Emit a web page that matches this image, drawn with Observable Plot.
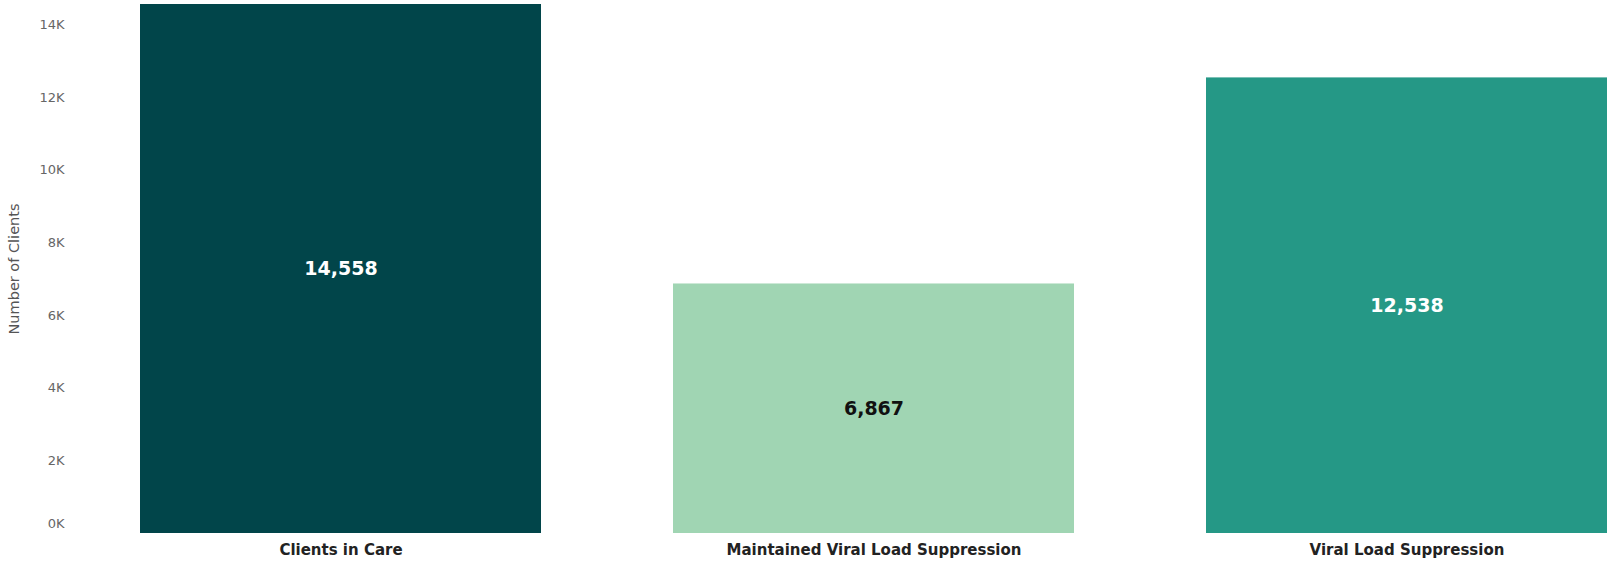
<!DOCTYPE html>
<html>
<head>
<meta charset="utf-8">
<script src="https://cdn.jsdelivr.net/npm/d3@7"></script>
<script src="https://cdn.jsdelivr.net/npm/@observablehq/plot@0.6"></script>
<style>
  html, body { margin: 0; padding: 0; background: #fff; }
  #chart svg { display: block; }
</style>
</head>
<body>
<div id="chart"></div>
<script>
const categories = ["Clients in Care", "Maintained Viral Load Suppression", "Viral Load Suppression"];
const values = [14558, 6867, 12538];
const barColors = ["#01454a", "#a0d5b3", "#259886"];
const labelColors = ["#ffffff", "#111111", "#ffffff"];
const yTicks = [0, 2000, 4000, 6000, 8000, 10000, 12000, 14000];

const data = categories.map((c, i) => ({category: c, value: values[i], color: barColors[i], labelColor: labelColors[i]}));
const fmtK = d => (d / 1000) + "K";

const chart = Plot.plot({
  width: 1611,
  height: 562,
  marginTop: 4,
  marginBottom: 29,
  marginLeft: 140,
  marginRight: 3,
  style: {fontFamily: "'DejaVu Sans', sans-serif", background: "#fff"},
  x: {domain: categories, paddingInner: 0.247, paddingOuter: 0, label: null},
  y: {domain: [0, 14558], label: null},
  marks: [
    Plot.barY(data, {x: "category", y: "value", fill: "color"}),
    Plot.text(data, {x: "category", y: d => d.value / 2, text: d => d3.format(",")(d.value), fill: "labelColor", fontSize: 19, fontWeight: "bold"}),
    Plot.axisX({tickSize: 0, tickPadding: 11, fontSize: 15, fontWeight: "bold", color: "#222", label: null}),
    Plot.axisY({ticks: yTicks.filter(t => t > 0), tickSize: 0, tickPadding: 76, fontSize: 13, color: "#666", tickFormat: fmtK, label: null}),
    Plot.axisY({ticks: yTicks.filter(t => t === 0), tickSize: 0, tickPadding: 76, dy: -10, fontSize: 13, color: "#666", tickFormat: fmtK, label: null}),
    Plot.text(["Number of Clients"], {frameAnchor: "left", textAnchor: "middle", dx: -126, rotate: -90, fontSize: 14.5, fill: "#555"})
  ]
});
document.getElementById("chart").appendChild(chart);
</script>
</body>
</html>
